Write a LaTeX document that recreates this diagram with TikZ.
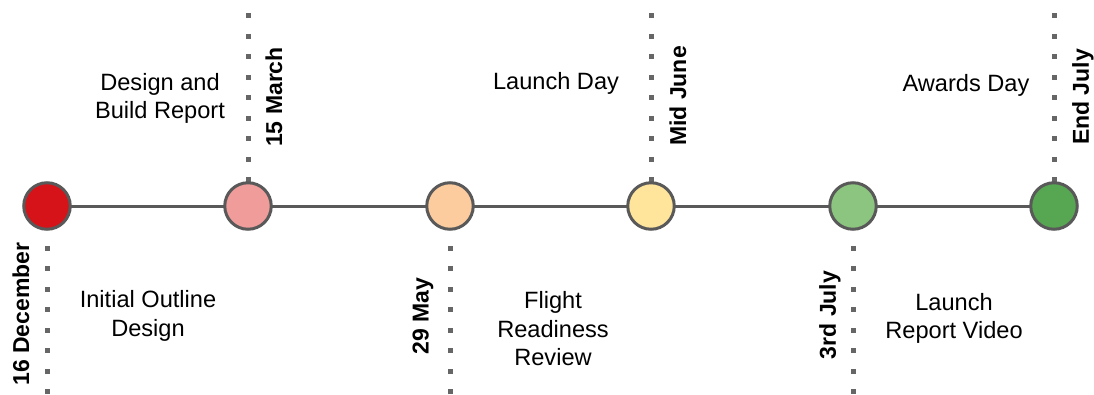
\documentclass[tikz,border=0pt]{standalone}
\usepackage{fontspec}
\setmainfont{Liberation Sans}
\begin{document}
\begin{tikzpicture}[x=1pt,y=1pt,
  milestone/.style={circle,draw=linegray,line width=3pt,minimum size=46.5pt,inner sep=0pt},
  axis/.style={draw=linegray,line width=3pt},
  guide/.style={draw=dotgray,line width=5pt,dash pattern=on 5pt off 15.5pt},
  datelabel/.style={rotate=90,font=\fontsize{23}{28}\selectfont\bfseries,inner sep=0pt},
  eventlabel/.style={align=center,font=\fontsize{23.6}{28.5}\selectfont,inner sep=0pt}
]
\definecolor{linegray}{HTML}{595959}
\definecolor{dotgray}{HTML}{666666}
\definecolor{mred}{HTML}{D61318}
\definecolor{mpink}{HTML}{EF9C9B}
\definecolor{mpeach}{HTML}{FCCB9E}
\definecolor{myellow}{HTML}{FFE49C}
\definecolor{mlgreen}{HTML}{8CC57F}
\definecolor{mgreen}{HTML}{57A752}

\useasboundingbox (0,0) rectangle (1094,394);

% milestone positions along the axis
\coordinate (p1) at (47,188);
\coordinate (p2) at (248,188);
\coordinate (p3) at (450,188);
\coordinate (p4) at (651,188);
\coordinate (p5) at (853,188);
\coordinate (p6) at (1054,188);

% free ends of the dotted guides
\coordinate (t2) at (248,380.5);
\coordinate (t4) at (651,380.5);
\coordinate (t6) at (1054,380.5);
\coordinate (b1) at (47,0);
\coordinate (b3) at (450,0);
\coordinate (b5) at (853,0);

% dotted guides (drawn first, under the circles)
\path[guide] (t2) -- (p2);
\path[guide] (t4) -- (p4);
\path[guide] (t6) -- (p6);
\path[guide] (b1) -- (p1);
\path[guide] (b3) -- (p3);
\path[guide] (b5) -- (p5);

% timeline axis
\path[axis] (p1) -- (p6);

% milestones
\node[milestone,fill=mred]    (m1) at (p1) {};
\node[milestone,fill=mpink]   (m2) at (p2) {};
\node[milestone,fill=mpeach]  (m3) at (p3) {};
\node[milestone,fill=myellow] (m4) at (p4) {};
\node[milestone,fill=mlgreen] (m5) at (p5) {};
\node[milestone,fill=mgreen]  (m6) at (p6) {};

% dates
\node[datelabel] (d1) at (21,80)    {16 December};
\node[datelabel] (d2) at (274,297)  {15 March};
\node[datelabel] (d3) at (423,78)   {29 May};
\node[datelabel] (d4) at (678,298)  {Mid June};
\node[datelabel] (d5) at (830,79)   {3rd July};
\node[datelabel] (d6) at (1083,297) {End July};

% events
\node[eventlabel] (e1) at (148,78)   {Initial Outline\\Design};
\node[eventlabel] (e2) at (160,295.5) {Design and\\Build Report};
\node[eventlabel] (e3) at (553,65)   {Flight\\Readiness\\Review};
\node[eventlabel] (e4) at (556,311)  {Launch Day};
\node[eventlabel] (e5) at (954,75.5) {Launch\\Report Video};
\node[eventlabel] (e6) at (966,309)  {Awards Day};
\end{tikzpicture}
\end{document}
